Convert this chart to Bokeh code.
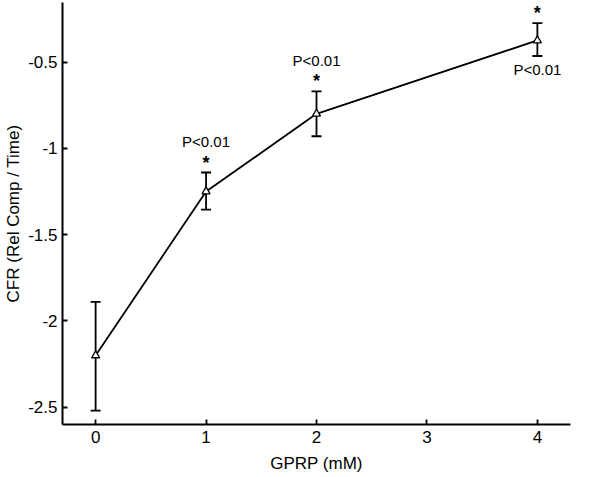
from bokeh.plotting import figure
from bokeh.models import ColumnDataSource, Whisker, TeeHead, FixedTicker, Range1d
from bokeh.core.properties import value
from bokeh.embed import file_html
from bokeh.resources import INLINE

conc = [0, 1, 2, 4]
cfr = [-2.20, -1.25, -0.80, -0.375]
err_upper = [-1.89, -1.14, -0.67, -0.275]
err_lower = [-2.52, -1.355, -0.93, -0.465]

sig_x = [1, 2, 4]
sig_top = [-1.14, -0.67, -0.275]
sig_bottom = [-1.355, -0.93, -0.465]
p_label = ["P<0.01", "P<0.01", "P<0.01"]
p_above = [True, True, False]

x_ticks = [0, 1, 2, 3, 4]
y_ticks = [-2.5, -2.0, -1.5, -1.0, -0.5]
y_tick_labels = ["-2.5", "-2", "-1.5", "-1", "-0.5"]

FONT = "Liberation Sans"

p = figure(width=601, height=477, output_backend="svg", toolbar_location=None,
           x_range=Range1d(-0.3, 4.3), y_range=Range1d(-2.6, -0.155),
           min_border_left=62, min_border_right=31, min_border_top=2, min_border_bottom=53)
p.outline_line_color = None
p.grid.visible = False
p.background_fill_color = "white"

src = ColumnDataSource(dict(x=conc, y=cfr, upper=err_upper, lower=err_lower))
p.line("x", "y", source=src, line_color="black", line_width=1.8)
w = Whisker(base="x", upper="upper", lower="lower", source=src,
            line_color="black", line_width=1.8,
            upper_head=TeeHead(size=10, line_color="black", line_width=1.8),
            lower_head=TeeHead(size=10, line_color="black", line_width=1.8))
p.add_layout(w)
p.scatter("x", "y", source=src, marker="triangle", size=8, fill_color="white",
          line_color="black", line_width=1.3)

# significance annotations
ax_x, ax_y, bx_x, bx_y, bx_t, ax_t = [], [], [], [], [], []
for xi, t, b, lab, above in zip(sig_x, sig_top, sig_bottom, p_label, p_above):
    if above:
        bx_x.append(xi); bx_y.append(t); bx_t.append(lab)
    else:
        ax_x.append(xi); ax_y.append(b); ax_t.append(lab)
p.text(x=sig_x, y=sig_top, text=["*"] * len(sig_x), y_offset=-10,
       text_align="center", text_baseline="middle", text_font=value(FONT),
       text_font_size="18px", text_font_style="bold", text_color="black")
p.text(x=bx_x, y=bx_y, text=bx_t, y_offset=-31,
       text_align="center", text_baseline="middle", text_font=value(FONT),
       text_font_size="15px", text_color="black")
p.text(x=ax_x, y=ax_y, text=ax_t, y_offset=13,
       text_align="center", text_baseline="middle", text_font=value(FONT),
       text_font_size="15px", text_color="black")

for ax in (p.xaxis[0], p.yaxis[0]):
    ax.axis_line_color = "black"
    ax.axis_line_width = 2
    ax.major_tick_line_color = "black"
    ax.major_tick_line_width = 1.8
    ax.major_tick_in = 5
    ax.major_tick_out = 0
    ax.minor_tick_line_color = None
    ax.major_label_text_font = FONT
    ax.major_label_text_font_size = "17px"
    ax.major_label_text_color = "black"
    ax.axis_label_text_font = FONT
    ax.axis_label_text_font_size = "17px"
    ax.axis_label_text_font_style = "normal"
    ax.axis_label_text_color = "black"

p.xaxis.ticker = FixedTicker(ticks=x_ticks)
p.yaxis.ticker = FixedTicker(ticks=y_ticks)
p.yaxis.major_label_overrides = {v: s for v, s in zip(y_ticks, y_tick_labels)}
p.xaxis.axis_label = "GPRP (mM)"
p.yaxis.axis_label = "CFR (Rel Comp / Time)"
p.xaxis.major_label_standoff = 6
p.yaxis.major_label_standoff = 5
p.xaxis.axis_label_standoff = 8
p.yaxis.axis_label_standoff = 2

open("out.html", "w").write(file_html(p, INLINE))
